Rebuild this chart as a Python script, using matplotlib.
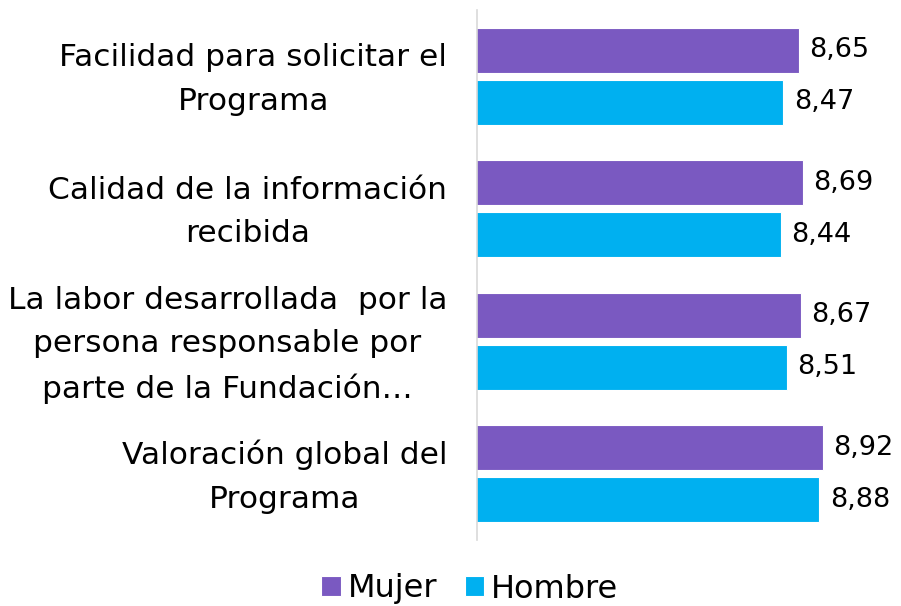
import matplotlib
matplotlib.use("Agg")
import matplotlib.pyplot as plt
import matplotlib.transforms as mtransforms
import numpy as np

categories = [
    "Facilidad para solicitar el\nPrograma",
    "Calidad de la información\nrecibida",
    "La labor desarrollada  por la\npersona responsable por\nparte de la Fundación…",
    "Valoración global del\nPrograma",
]
mujer = [8.65, 8.69, 8.67, 8.92]
hombre = [8.47, 8.44, 8.51, 8.88]
series_names = ["Mujer", "Hombre"]
colors = ["#7A59C1", "#00B0F0"]

plt.rcParams['font.family'] = ['DejaVu Sans']

W, H = 901, 606
fig = plt.figure(figsize=(W / 100, H / 100), dpi=100)
x0, x1 = 477, 830
y0, y1 = 10, 540
ax = fig.add_axes([x0 / W, 1 - y1 / H, (x1 - x0) / W, (y1 - y0) / H])

n = len(categories)
pos = np.arange(n)
bh = 0.34
off = 0.195
ax.barh(pos - off, mujer, height=bh, left=0, color=colors[0], edgecolor="white", linewidth=0.8, label=series_names[0])
ax.barh(pos + off, hombre, height=bh, left=0, color=colors[1], edgecolor="white", linewidth=0.8, label=series_names[1])

ax.set_xlim(5, 9)
ax.set_ylim(n - 0.5, -0.5)

fs_val = 19.5
fs_cat = 22.5
for i in range(n):
    ax.annotate(f"{mujer[i]:.2f}".replace(".", ","), (mujer[i], pos[i] - off), xytext=(7.5, 0),
                textcoords="offset points", va="center", ha="left", fontsize=fs_val, annotation_clip=False)
    ax.annotate(f"{hombre[i]:.2f}".replace(".", ","), (hombre[i], pos[i] + off), xytext=(7.5, 0),
                textcoords="offset points", va="center", ha="left", fontsize=fs_val, annotation_clip=False)

ax.set_yticks(pos)
ax.set_yticklabels(categories, fontsize=fs_cat, multialignment="center", linespacing=1.62)
ax.tick_params(axis="y", length=0, pad=21.5)
shift = mtransforms.ScaledTranslation(0, 0.07, fig.dpi_scale_trans)
for lbl in ax.get_yticklabels():
    lbl.set_transform(lbl.get_transform() + shift)
ax.set_xticks([])
for s in ["top", "right", "bottom"]:
    ax.spines[s].set_visible(False)
ax.spines["left"].set_color("#D9D9D9")
ax.spines["left"].set_linewidth(1.2)

fig.legend(loc="center", bbox_to_anchor=(470 / W, 1 - 589 / H), ncol=2, frameon=False,
           fontsize=23, handlelength=0.6, handleheight=0.6, handletextpad=0.22, columnspacing=0.87)

fig.savefig("out.png", dpi=100)
